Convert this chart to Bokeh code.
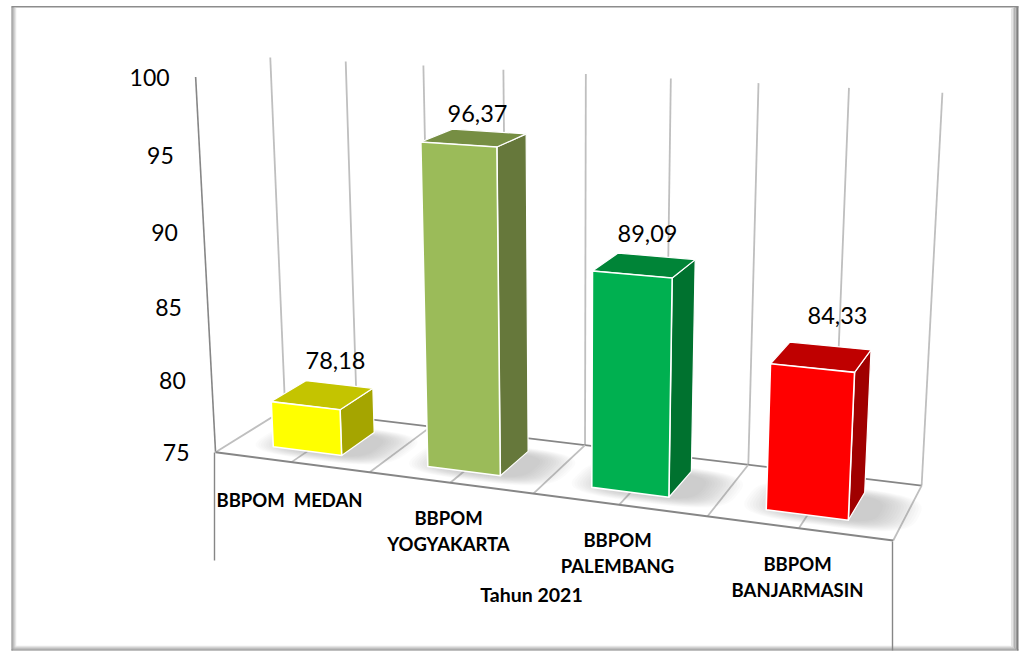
import numpy as np
from bokeh.plotting import figure
from bokeh.embed import file_html
from bokeh.resources import INLINE
from bokeh.core.properties import value

categories_line1 = ["BBPOM\u00a0\u00a0MEDAN", "BBPOM", "BBPOM", "BBPOM"]
categories_line2 = ["", "YOGYAKARTA", "PALEMBANG", "BANJARMASIN"]
values = [78.18, 96.37, 89.09, 84.33]
ticks = [75, 80, 85, 90, 95, 100]
axis_title = "Tahun 2021"
front_colors = ["#FFFF00", "#9BBB59", "#00B050", "#FF0000"]
top_colors = ["#C4C400", "#768E43", "#008437", "#BF0000"]
side_colors = ["#A5A500", "#66783B", "#00722F", "#A00000"]

# camera calibration: (category position, depth, value) <-> page pixel
CAL_3D = [(0,0,75),(1,0,75),(2,0,75),(3,0,75),(4,0,75),
          (0,1,75),(2,1,75),(3,1,75),(4,1,75),
          (0,0,100),(0,1,100),(1,1,100),(2,1,100),(3,1,100),(4,1,100)]
CAL_2D = [(214,452),(370,472),(533,492),(708,515),(892,541),
          (285,409),(584,444),(748,464),(921,486),
          (195,77),(270,57),(423,65),(585,73),(758,83),(942,92)]

def fit_camera(a, b):
    rows = []
    for (u, d, z), (x, y) in zip(a, b):
        X = [u, d, (z-75)/25, 1]
        rows.append(X + [0]*4 + [-x*c for c in X])
        rows.append([0]*4 + X + [-y*c for c in X])
    return np.linalg.svd(np.array(rows, float))[2][-1].reshape(3, 4)

CAM = fit_camera(CAL_3D, CAL_2D)

def proj(u, d, z):
    h = CAM @ np.array([u, d, (z-75)/25, 1.0])
    return h[0]/h[2], h[1]/h[2]

def poly(pts):
    xy = [proj(*q) for q in pts]
    return [q[0] for q in xy], [q[1] for q in xy]

p = figure(width=1020, height=652, x_range=(0, 1020), y_range=(652, 0),
           output_backend="svg", toolbar_location=None, min_border=0,
           background_fill_color="white", border_fill_color="white", outline_line_color=None)
p.axis.visible = False
p.grid.visible = False

# bevelled frame
def shade(i, n, dark=0x80):
    t = i/(n-1)
    g = int(dark + (255-dark)*t)
    return f"#{g:02x}{g:02x}{g:02x}"
n = 6
for i in range(n):
    c = shade(i, n)
    p.quad(left=11+i, right=12+i, top=6+i*0.5, bottom=650-i, fill_color=c, line_color=None)
    p.quad(left=1018-1.5*i-1.5, right=1018-1.5*i, top=6+i*0.5, bottom=650-i, fill_color=c, line_color=None)
    p.quad(left=11+i, right=1018-1.5*i, top=650-i-1, bottom=650-i, fill_color=c, line_color=None)
p.quad(left=11, right=1018, top=5.5, bottom=7, fill_color="#8c8c8c", line_color=None)

GRID = "#BFBFBF"
AXIS = "#868686"
# walls
for k in range(0, 9):
    p.line(*poly([(k/2, 1, 75), (k/2, 1, 100)]), line_color=GRID, line_width=1.8)
p.line(*poly([(0, 0, 75), (0, 0, 100)]), line_color=AXIS, line_width=1.6)
# floor
p.line(*poly([(0, 1, 75), (4, 1, 75)]), line_color=AXIS, line_width=1.8)
for k in range(9):
    p.line(*poly([(k/2, 0, 75), (k/2, 1, 75)]), line_color=GRID, line_width=1.8)
p.line(*poly([(0, 0, 75), (4, 0, 75)]), line_color=AXIS, line_width=2)
# drop lines under the floor edges
p.line([214, 214], [452, 560], line_color=AXIS, line_width=1.4)
p.line([892, 892], [541, 650], line_color=AXIS, line_width=1.4)

U0, U1, D0, D1 = 0.272, 0.722, 0.235, 0.745
for i, v in enumerate(values):
    u0, u1 = i+U0, i+U1
    # soft shadow on floor, a stack of faint super-ellipses
    cu, cd = (u0+u1)/2+0.10, (D0+D1)/2-0.04
    t = np.linspace(0, 2*np.pi, 60)
    for k in range(14):
        s = 1-k/14
        ru, rd = 0.25+0.22*s, 0.22+0.14*s
        pts = [(cu+ru*np.sign(np.cos(a))*abs(np.cos(a))**0.6,
                max(cd+rd*np.sign(np.sin(a))*abs(np.sin(a))**0.6, 0.02), 75) for a in t]
        p.patch(*poly(pts), fill_color="#707070", fill_alpha=0.03, line_color=None)
for i, v in enumerate(values):
    u0, u1 = i+U0, i+U1
    p.patch(*poly([(u1, D0, 75), (u1, D1, 75), (u1, D1, v), (u1, D0, v)]),
            fill_color=side_colors[i], line_color="white", line_width=1.2, line_join="round")
    p.patch(*poly([(u0, D0, v), (u1, D0, v), (u1, D1, v), (u0, D1, v)]),
            fill_color=top_colors[i], line_color="white", line_width=1.2, line_join="round")
    p.patch(*poly([(u0, D0, 75), (u1, D0, 75), (u1, D0, v), (u0, D0, v)]),
            fill_color=front_colors[i], line_color="white", line_width=1.6, line_join="round")

FONT = value("Lato")
# value axis labels
for t in ticks:
    x, y = proj(0, 0, t)
    p.text([x-26], [y], text=[str(t)], text_font=FONT, text_font_size="23px",
           text_align="right", text_baseline="middle", text_color="black")
# data labels
LABEL_XY = [(335, 360), (477, 113), (647, 233), (837, 315)]
for (x, y), v in zip(LABEL_XY, values):
    p.text([x], [y], text=[f"{v:.2f}".replace(".", ",")], text_font=FONT, text_font_size="23.5px",
           text_align="center", text_baseline="middle", text_color="black")
# category labels
CAT_XY = [(289, 499), (448, 517), (617, 539), (797, 563)]
LINE_GAP = 26
for (x, y), a, b in zip(CAT_XY, categories_line1, categories_line2):
    for j, s in enumerate([a, b]):
        if s:
            p.text([x], [y+j*LINE_GAP], text=[s], text_font=FONT, text_font_size="18.5px", text_font_style="bold",
                   text_align="center", text_baseline="middle", text_color="black")
p.text([531], [594], text=[axis_title], text_font=FONT, text_font_size="19.5px", text_font_style="bold",
       text_align="center", text_baseline="middle", text_color="black")

open("out.html", "w").write(file_html(p, INLINE))
